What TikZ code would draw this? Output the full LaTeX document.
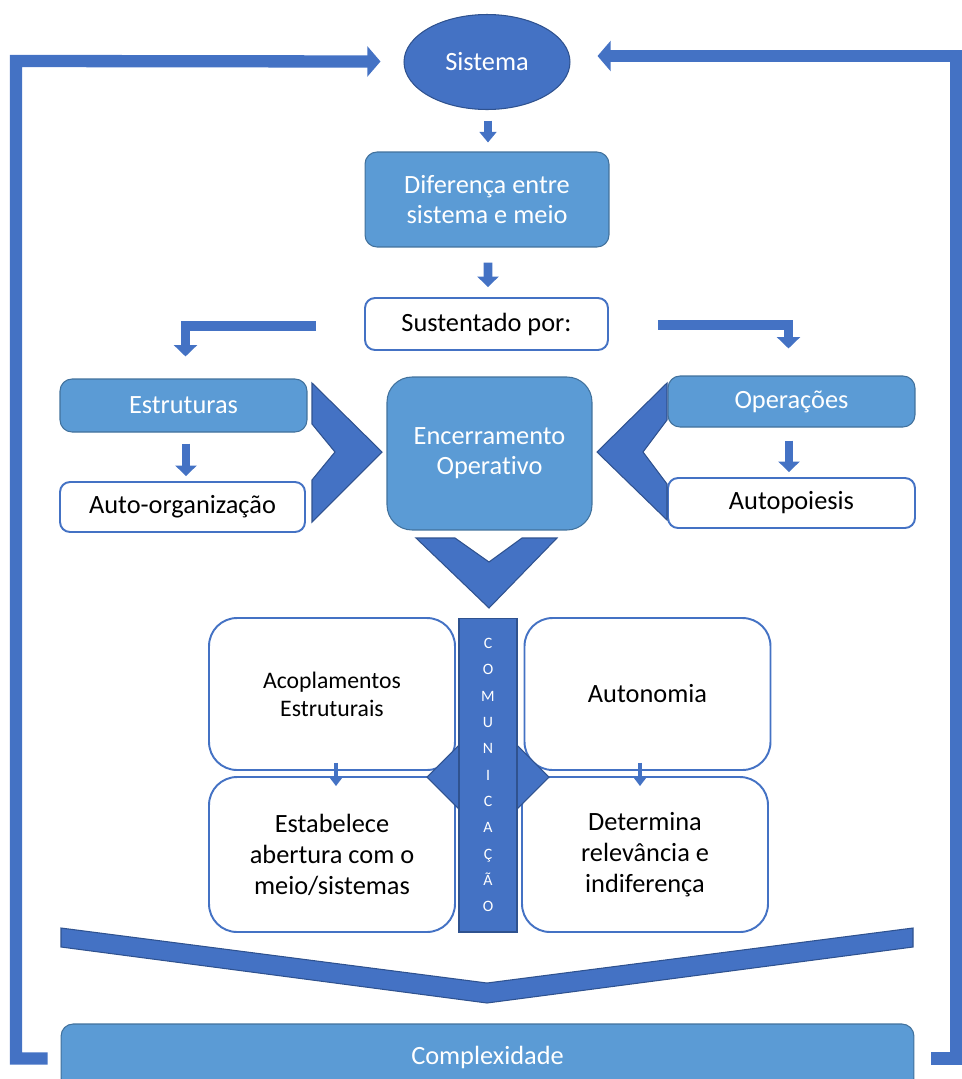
\documentclass[tikz,border=0pt]{standalone}
\usepackage{fontspec}
\setmainfont{Carlito}[Ligatures=NoCommon]
\usetikzlibrary{arrows.meta,shapes.geometric,calc}
\definecolor{darkblue}{HTML}{4472C4}
\definecolor{darkline}{HTML}{2F528F}
\definecolor{lightblue}{HTML}{5B9BD5}
\definecolor{lightline}{HTML}{41719C}

\begin{document}
\begin{tikzpicture}[x=0.02cm, y=-0.02cm,
    lightbox/.style = {draw=lightline, fill=lightblue, text=white, rounded corners=0.24cm, line width=0.6pt, align=center, inner sep=0pt, font=\fontsize{15}{17}\selectfont},
    whitebox/.style = {draw=darkblue, fill=white, text=black, rounded corners=0.2cm, line width=1.1pt, align=center, inner sep=0pt, font=\fontsize{15}{17}\selectfont},
    quadbox/.style = {whitebox, rounded corners=0.56cm, minimum width=4.92cm, minimum height=3.04cm, font=\fontsize{15}{17.6}\selectfont},
    chevron/.style = {fill=darkblue, draw=darkline, line width=0.6pt},
    looparrow/.style = {draw=darkblue, line width=7pt, -{Triangle[width=17pt,length=7.5pt]}},
    elbowarrow/.style = {draw=darkblue, line width=5.5pt, -{Triangle[width=13pt,length=6.5pt]}},
    midarrow/.style = {draw=darkblue, line width=5pt, -{Triangle[width=12pt,length=6pt]}},
    thinarrow/.style = {draw=darkblue, line width=4pt, -{Triangle[width=9.5pt,length=6pt]}},
    tinyarrow/.style = {draw=darkblue, line width=2.5pt, -{Triangle[width=6.5pt,length=4.5pt]}}]
    \useasboundingbox (0,0) rectangle (961,1079);

    \node[ellipse, draw=darkline, fill=darkblue, text=white, line width=0.6pt, minimum width=3.32cm, minimum height=1.9cm, inner sep=0pt, font=\fontsize{15}{17}\selectfont] (sis) at (487,62) {Sistema};
    \node[lightbox, minimum width=4.88cm, minimum height=1.9cm] (dif) at (487,199.5) {Diferença entre\\sistema e meio};
    \node[whitebox, minimum width=4.86cm, minimum height=1.04cm] (sus) at (486.5,324) {Sustentado por:};
    \node[lightbox, minimum width=4.94cm, minimum height=1.06cm] (est) at (183.5,405.5) {Estruturas};
    \node[whitebox, minimum width=4.9cm, minimum height=1cm] (org) at (182.5,507) {Auto-organização};
    \node[lightbox, rounded corners=0.5cm, minimum width=4.1cm, minimum height=3.06cm] (enc) at (489.5,453.5) {Encerramento\\Operativo};
    \node[lightbox, minimum width=4.94cm, minimum height=1.02cm] (ope) at (791.5,401.5) {Operações};
    \node[whitebox, minimum width=4.94cm, minimum height=1cm] (apo) at (791.5,503) {Autopoiesis};

    % chevrons
    \path[chevron] (312,383) -- (382,452) -- (312,522) -- (312,480) -- (335,452) -- (312,424) -- cycle;
    \path[chevron] (667,383) -- (597,452) -- (667,520) -- (667,484) -- (643,452) -- (667,420) -- cycle;
    \path[chevron] (416,538) -- (455,538) -- (489,562) -- (522,538) -- (557,538) -- (489,608) -- cycle;

    \node[quadbox, font=\fontsize{13.5}{16}\selectfont] (aco) at (332,694) {Acoplamentos\\Estruturais};
    \node[quadbox] (aut) at (647.5,694) {Autonomia};
    \node[quadbox, minimum height=3.1cm] (abe) at (332,854.5) {Estabelece\\abertura com o\\meio/sistemas};
    \node[quadbox, minimum height=3.1cm] (det) at (645,854.5) {Determina\\relevância e\\indiferença};

    \path[chevron] (427,777) -- (488,716) -- (549,777) -- (488,838) -- cycle;
    \node[draw=darkline, fill=darkblue, text=white, line width=0.6pt, minimum width=1.16cm, minimum height=6.28cm, inner sep=0pt, align=center, font=\fontsize{9}{15}\selectfont] (com) at (488,775) {C\\O\\M\\U\\N\\I\\C\\A\\Ç\\Ã\\O};

    \path[chevron] (61,928) -- (487,983) -- (913,928) -- (913,947) -- (487,1003) -- (61,947) -- cycle;
    \node[lightbox, minimum width=17.06cm, minimum height=1.32cm] (cpx) at (487.5,1057) {Complexidade};

    % arrows
    \draw[thinarrow] ($(sis.south)+(1,10.5)$) -- ($(dif.north)+(1,-9)$);
    \draw[midarrow] ($(dif.south)+(1,15)$) -- ($(sus.north)+(1.5,-10)$);
    \draw[elbowarrow] ($(sus.west)+(-48,2)$) -| ($(est.north)+(2,-22)$);
    \draw[elbowarrow] ($(sus.east)+(49,1)$) -| ($(ope.north)+(-3,-27)$);
    \draw[midarrow] ($(est.south)+(2.5,11)$) -- ($(org.north)+(3.5,-5)$);
    \draw[midarrow] ($(ope.south)+(-2.5,13)$) -- ($(apo.north)+(-2.5,-5)$);
    \draw[tinyarrow] ($(aco.south)+(4,-8)$) -- ($(abe.north)+(4,10)$);
    \draw[tinyarrow] ($(aut.south)+(-7.5,-8)$) -- ($(det.north)+(-5,10)$);

    \coordinate (lc) at (16,61);
    \coordinate (rc) at (956,56);
    \draw[looparrow] ($(cpx.west)+(-13,1.5)$) -| (lc) -- ($(sis.west)+(-23,-0.5)$);
    \draw[looparrow] ($(cpx.east)+(17,1.5)$) -| (rc) -- ($(sis.east)+(27,-6)$);
\end{tikzpicture}
\end{document}
